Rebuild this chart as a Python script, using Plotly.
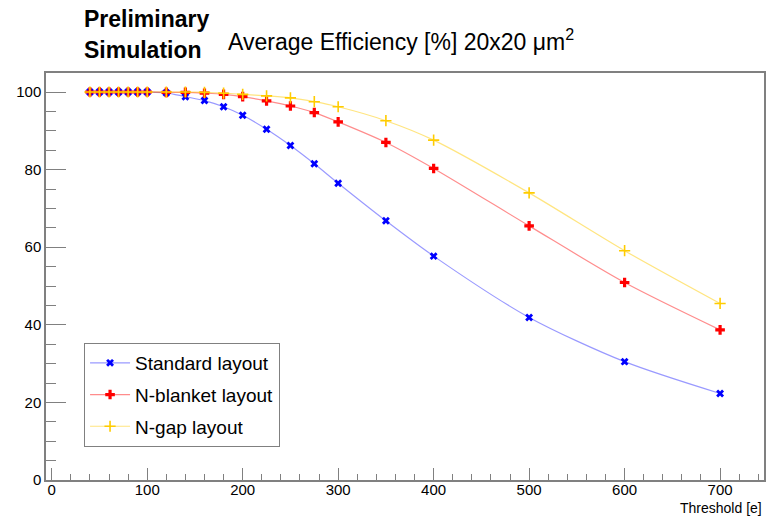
import plotly.graph_objects as go

threshold = [40, 50, 60, 70, 80, 90, 100, 120, 140, 160, 180, 200, 225, 250, 275, 300, 350, 400, 500, 600, 700]
standard = [100, 100, 100, 100, 100, 100, 100, 99.8, 98.8, 97.8, 96.2, 94.0, 90.4, 86.2, 81.5, 76.5, 66.8, 57.7, 41.9, 30.5, 22.3]
nblanket = [100, 100, 100, 100, 100, 100, 100, 99.9, 99.9, 99.7, 99.4, 98.8, 97.7, 96.4, 94.7, 92.3, 87.0, 80.3, 65.5, 50.9, 38.7]
ngap = [100, 100, 100, 100, 100, 100, 100, 100, 100, 99.9, 99.7, 99.4, 99.0, 98.5, 97.5, 96.2, 92.6, 87.6, 74.0, 59.1, 45.5]
names = ["Standard layout", "N-blanket layout", "N-gap layout"]

FONT = "Liberation Sans, Arial, sans-serif"

fig = go.Figure()
fig.add_trace(go.Scatter(
    x=threshold, y=standard, name=names[0], mode="lines+markers", legendgroup="a",
    line=dict(color="rgba(0,0,255,0.4)", width=1.2, shape="spline", smoothing=0.8),
    marker=dict(symbol="x", size=7, color="#0000ff", line=dict(width=0)),
))
fig.add_trace(go.Scatter(
    x=threshold, y=nblanket, name=names[1], mode="lines+markers", legendgroup="b",
    line=dict(color="rgba(255,0,0,0.45)", width=1.2, shape="spline", smoothing=0.8),
    marker=dict(symbol="cross", size=8, color="#ff0000", line=dict(width=0)),
))
fig.add_trace(go.Scatter(
    x=threshold, y=ngap, name=names[2], mode="lines+markers", legendgroup="c",
    line=dict(color="rgba(255,204,0,0.5)", width=1.2, shape="spline", smoothing=0.8),
    marker=dict(symbol="cross-thin", size=8, color="#ffcc00", line=dict(width=1.6, color="#ffcc00")),
))

fig.update_layout(
    width=782, height=519,
    margin=dict(l=46, r=18, t=73, b=39),
    paper_bgcolor="white", plot_bgcolor="white",
    font=dict(family=FONT, color="black", size=14),
    showlegend=True,
    legend=dict(
        x=0.053, y=0.3366, xanchor="left", yanchor="top",
        bgcolor="white", bordercolor="#808080", borderwidth=1,
        font=dict(family=FONT, size=19, color="black"),
        itemwidth=40, tracegroupgap=4,
    ),
    title=dict(
        text="Average Efficiency [%] 20x20 μm<sup>2</sup>",
        x=228 / 782, xanchor="left", xref="container",
        y=1 - 42 / 519, yanchor="middle", yref="container",
        font=dict(family=FONT, size=23, color="black"),
    ),
)

fig.update_xaxes(
    range=[-6, 746], showgrid=False, zeroline=False,
    showline=True, linecolor="#808080", linewidth=1.5, mirror=True,
    ticks="inside", ticklen=12, tickcolor="#808080", tickwidth=1,
    tick0=0, dtick=100, ticklabelstandoff=-5,
    minor=dict(ticks="inside", ticklen=6, tickcolor="#808080", dtick=20, tick0=0, showgrid=False),
    tickfont=dict(family=FONT, size=15, color="black"),
)
fig.update_yaxes(
    range=[0, 104.9], showgrid=False, zeroline=False,
    showline=True, linecolor="#808080", linewidth=1.5, mirror=True,
    ticks="inside", ticklen=20, tickcolor="#808080", tickwidth=1,
    tick0=0, dtick=20,
    minor=dict(ticks="inside", ticklen=10, tickcolor="#808080", dtick=5, tick0=0, showgrid=False),
    tickfont=dict(family=FONT, size=15, color="black"),
)

fig.add_annotation(text="<b>Preliminary</b>", xref="paper", yref="paper",
                   x=(82 - 46) / 718, xanchor="left",
                   y=(480 - 19) / 407, yanchor="middle", showarrow=False,
                   font=dict(family=FONT, size=23, color="black"))
fig.add_annotation(text="<b>Simulation</b>", xref="paper", yref="paper",
                   x=(82 - 46) / 718, xanchor="left",
                   y=(480 - 50) / 407, yanchor="middle", showarrow=False,
                   font=dict(family=FONT, size=23, color="black"))
fig.add_annotation(text="Threshold [e]", xref="paper", yref="paper",
                   x=1, xanchor="right",
                   y=(480 - 508) / 407, yanchor="middle", showarrow=False,
                   font=dict(family=FONT, size=14, color="black"))

fig.write_html("out.html", config={"displayModeBar": False},
               post_script="document.body.style.margin='0px';")
